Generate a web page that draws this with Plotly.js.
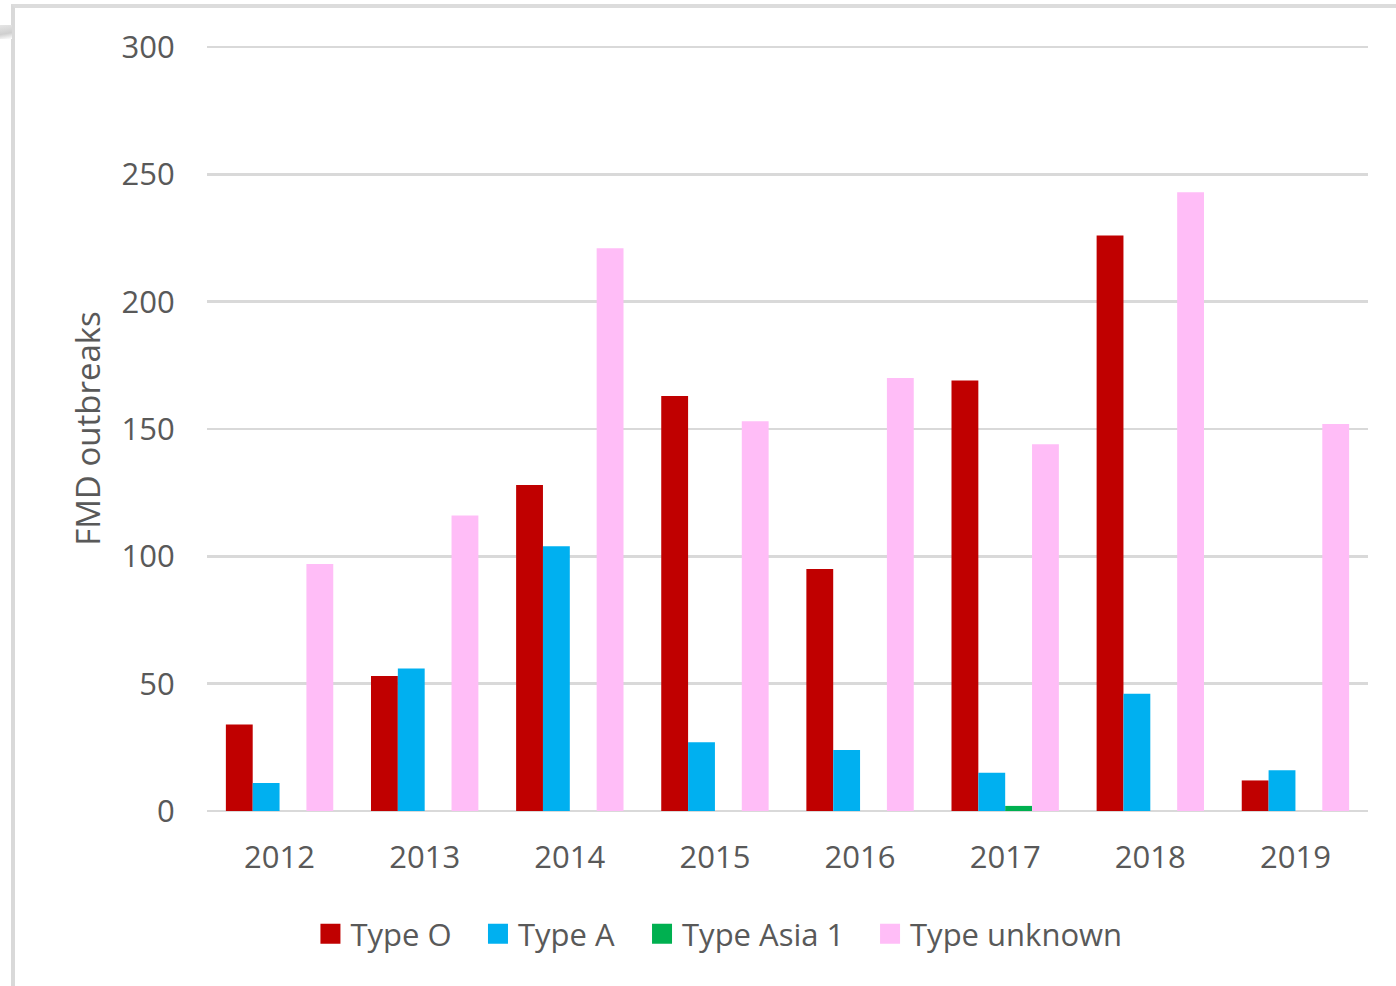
<!DOCTYPE html>
<html>
<head>
<meta charset="utf-8">
<script src="https://cdn.plot.ly/plotly-3.0.1.min.js"></script>
<style>
  html, body { margin: 0; padding: 0; background: #ffffff; }
  #frame { position: absolute; left: 11px; top: 4px; width: 1385px; height: 982px;
           border-left: 4px solid #d9d9d9; border-top: 4px solid #dcdcdc; box-sizing: border-box; }
  #swoosh { position: absolute; left: 0; top: 25px; width: 12px; height: 14px;
            background: linear-gradient(170deg, #e6e6e6 0%, #cfcfcf 60%, #ffffff 100%); }
  #chart { position: absolute; left: 0; top: 0; width: 1396px; height: 986px; }
</style>
</head>
<body>
<div id="frame"></div>
<div id="swoosh"></div>
<div id="chart"></div>
<script>
const years = ["2012", "2013", "2014", "2015", "2016", "2017", "2018", "2019"];
const typeO = [34, 53, 128, 163, 95, 169, 226, 12];
const typeA = [11, 56, 104, 27, 24, 15, 46, 16];
const typeAsia1 = [0, 0, 0, 0, 0, 2, 0, 0];
const typeUnknown = [97, 116, 221, 153, 170, 144, 243, 152];
const seriesNames = ["Type O", "Type A", "Type Asia 1", "Type unknown"];
const yTicks = [0, 50, 100, 150, 200, 250, 300];

const colors = ["#c00000", "#00b0f0", "#00b050", "#ffbdf7"];
const allSeries = [typeO, typeA, typeAsia1, typeUnknown];
const legendIds = ["legend", "legend2", "legend3", "legend4"];
const legendX = [0.0891, 0.2334, 0.3747, 0.5711];

const traces = allSeries.map((vals, i) => ({
  type: "bar",
  name: seriesNames[i],
  x: years,
  y: vals,
  legend: legendIds[i],
  marker: { color: colors[i], line: { width: 0 } },
  hoverinfo: "x+y+name"
}));

const textColor = "#595959";
const font = "'Open Sans', 'Noto Sans', sans-serif";

const layout = {
  width: 1396,
  height: 986,
  margin: { l: 207, r: 28, t: 46, b: 175 },
  paper_bgcolor: "rgba(0,0,0,0)",
  plot_bgcolor: "rgba(0,0,0,0)",
  barmode: "group",
  bargap: 0.26,
  bargroupgap: 0,
  font: { family: font, size: 31, color: textColor },
  xaxis: {
    type: "category",
    range: [-0.5, 7.5],
    showgrid: false,
    showline: false,
    zeroline: false,
    ticks: "outside",
    ticklen: 19,
    tickcolor: "rgba(0,0,0,0)",
    tickfont: { family: font, size: 31, color: textColor }
  },
  yaxis: {
    range: [0, 300.4],
    tickvals: yTicks,
    ticktext: yTicks.map(String),
    showgrid: true,
    gridcolor: "#d9d9d9",
    gridwidth: 2.5,
    zeroline: true,
    zerolinecolor: "#d9d9d9",
    zerolinewidth: 2.5,
    showline: false,
    ticks: "outside",
    ticklen: 25,
    tickcolor: "rgba(0,0,0,0)",
    tickfont: { family: font, size: 31, color: textColor },
    title: { text: "FMD outbreaks", font: { family: font, size: 33, color: textColor }, standoff: 11 }
  },
  showlegend: true
};

legendIds.forEach((id, i) => {
  layout[id] = {
    orientation: "h",
    x: legendX[i],
    xanchor: "left",
    y: -0.161,
    yanchor: "middle",
    font: { family: font, size: 31, color: textColor },
    itemwidth: 30,
    bgcolor: "rgba(0,0,0,0)"
  };
});

Plotly.newPlot("chart", traces, layout, { displayModeBar: false, staticPlot: true }).then(() => {
  document.querySelectorAll("#chart .legendpoints path").forEach(p => {
    p.setAttribute("d", "M10,10H-10V-10H10Z");
  });
});
</script>
</body>
</html>
